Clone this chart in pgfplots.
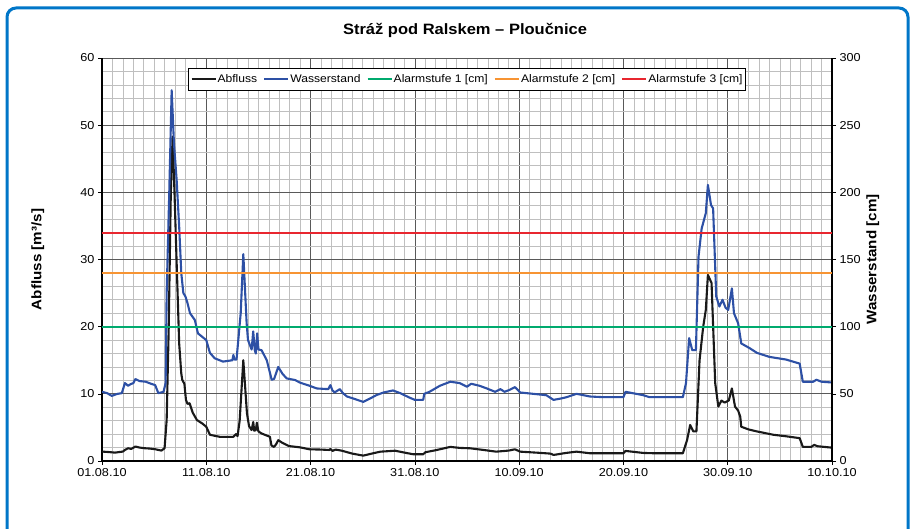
\documentclass[border=0pt]{standalone}
\usepackage{fontspec}
\setmainfont{Liberation Sans}[FakeStretch=1.1]
\usepackage{pgfplots}
\pgfplotsset{compat=1.18}
\definecolor{frameblue}{RGB}{0,118,200}
\definecolor{wblue}{RGB}{45,80,165}
\definecolor{agreen}{RGB}{0,170,110}
\definecolor{aorange}{RGB}{247,148,51}
\definecolor{ared}{RGB}{232,38,47}
\definecolor{qblack}{RGB}{25,25,25}

\begin{document}
\begin{tikzpicture}[x=1pt,y=1pt]
\path[use as bounding box] (0,0) rectangle (915,529);
\draw[frameblue, line width=3pt, rounded corners=9pt] (7,-30) -- (7,521) -- (908,521) -- (908,-30);
\node[font=\fontsize{15}{17}\selectfont\bfseries] at (465,499) {Stráž pod Ralskem – Ploučnice};

\pgfplotsset{
  common/.style={
    at={(102pt,68pt)}, anchor=south west, scale only axis,
    width=730pt, height=403pt,
    xmin=0, xmax=70,
    tick align=outside, major tick length=4pt, minor tick length=0pt,
    tick style={black, line width=0.6pt},
    axis line style={line width=1.8pt, -},
    ticklabel style={font=\fontsize{11.5}{13}\selectfont},
    /pgf/number format/assume math mode=true,
    label style={font=\fontsize{13.8}{15}\selectfont\bfseries},
  }
}

\begin{axis}[common,
  ymin=0, ymax=60,
  xtick={0,10,...,70},
  xticklabels={01.08.10,11.08.10,21.08.10,31.08.10,10.09.10,20.09.10,30.09.10,10.10.10},
  ytick={0,10,...,60},
  minor x tick num=9, minor y tick num=4,
  grid=both,
  major grid style={black!65, line width=0.7pt},
  minor grid style={black!25, line width=0.6pt},
  axis x line*=bottom, axis y line*=left,
  ylabel={Abfluss [m³/s]},
  ylabel style={at={(axis description cs:-0.088,0.5)}, anchor=center},
]
\addplot[qblack, line width=2.1pt, line join=round] coordinates {
(0,1.4) (0.5,1.35) (1.25,1.25) (2.0,1.4) (2.2,1.65) (2.5,1.9) (2.8,1.8) (3.2,2.15) (3.6,2.0)
(4.1,1.9) (4.6,1.85) (5.1,1.75) (5.7,1.55) (6.0,1.9) (6.2,6.1) (6.4,20) (6.6,40) (6.77,48.3)
(6.95,40) (7.15,29.9) (7.4,17.5) (7.6,13.05) (7.7,12.06) (7.9,11.5) (8.05,9.1) (8.2,8.5) (8.4,8.6)
(8.7,7.2) (9.1,6.1) (9.6,5.6) (10.0,5.1) (10.35,3.9) (11.3,3.6) (12.0,3.6) (12.6,3.6) (12.85,4.0)
(13.0,3.7) (13.2,6) (13.55,15.0) (13.9,7.1) (14.1,5.2) (14.35,4.6) (14.5,5.8) (14.6,4.5) (14.75,4.6)
(14.85,5.7) (15.0,4.4) (15.3,4.1) (16.1,3.6) (16.25,2.3) (16.5,2.1) (16.7,2.5) (16.9,3.1) (17.3,2.7)
(17.7,2.4) (17.9,2.23) (19.0,2.03) (19.9,1.74) (21.0,1.7) (21.8,1.64) (21.9,1.8) (22.1,1.5) (22.4,1.7)
(23.0,1.53) (24.0,1.1) (25.05,0.8) (26.0,1.15) (26.7,1.39) (28.1,1.53) (29.0,1.25) (29.85,1.0)
(30.8,1.0) (31.0,1.3) (32.1,1.64) (33.4,2.1) (34.3,1.95) (35.3,1.89) (36.6,1.64) (37.8,1.39)
(39.0,1.55) (39.6,1.74) (40.1,1.39) (41.7,1.24) (43.0,1.1) (43.3,0.9) (44.5,1.2) (45.5,1.39)
(46.8,1.15) (49.3,1.15) (50.0,1.15) (50.2,1.5) (51.9,1.2) (53,1.15) (55.7,1.15) (56.1,3.1)
(56.4,5.36) (56.7,4.4) (57.0,4.4) (57.3,15.0) (57.65,20) (57.9,22.5) (58.1,27.7) (58.45,26.5)
(58.8,11.6) (59.1,8.1) (59.4,9.0) (59.7,8.7) (60.1,9.0) (60.4,10.8) (60.7,8.1) (61.0,7.5) (61.2,6.6)
(61.3,5.1) (62.0,4.7) (62.8,4.4) (64.4,3.9) (65.5,3.7) (66.9,3.4) (67.2,2.1) (68.0,2.1) (68.3,2.4)
(68.6,2.2) (69.9,2.0)
};
\end{axis}

\begin{axis}[common,
  ymin=0, ymax=300,
  ytick={0,50,...,300},
  axis x line=none, axis y line*=right,
  ylabel={Wasserstand [cm]},
  ylabel style={at={(axis description cs:1.056,0.5)}, anchor=center},
  legend columns=-1,
  legend image code/.code={\draw[#1] (0pt,0pt) -- (24pt,0pt);},
  legend style={at={(0.5,0.975)}, anchor=north, draw=black, line width=0.5pt,
    font=\fontsize{11}{13}\selectfont, inner xsep=2pt, inner ysep=4pt,
    /tikz/every even column/.append style={column sep=5pt},
    nodes={inner xsep=1pt}},
]
\addlegendimage{qblack, line width=2.1pt}
\addlegendentry{Abfluss}
\addplot[wblue, line width=2.1pt, line join=round] coordinates {
(0,51.5) (0.5,50.5) (0.93,48.5) (1.5,50) (1.9,50.5) (2.2,58) (2.5,56) (2.7,57) (3.0,58) (3.2,61)
(3.6,59.5) (4.2,59) (4.7,57.5) (5.1,56.5) (5.4,50.5) (5.9,51.5) (6.1,58) (6.2,125) (6.45,200)
(6.68,276) (6.9,236.5) (7.16,209) (7.4,174.5) (7.6,140) (7.8,125) (8.0,122.5) (8.2,117.5)
(8.44,110) (8.9,105) (9.2,95) (10.0,90) (10.35,80.5) (10.8,76.5) (11.6,74) (12.5,75) (12.6,79)
(12.7,75.5) (12.9,75.5) (13.3,110) (13.55,154) (13.87,102.5) (14.0,90) (14.35,83) (14.5,96.5)
(14.65,82.5) (14.75,80) (14.88,95) (15.0,83) (15.3,82.5) (15.8,75) (16.27,60.5) (16.5,61)
(16.9,70) (17.3,65) (17.7,61.5) (18.5,60.3) (19.0,58.3) (19.9,56) (20.6,54) (21.7,53.5)
(21.9,56.5) (22.1,52.5) (22.3,51) (22.8,53.5) (23.1,50.5) (23.5,48) (24.1,46.5) (25.05,44)
(25.7,46.5) (26.3,49) (27.0,51) (27.9,52.5) (28.6,50.5) (29.4,47.5) (30.0,45.5) (30.8,45.5)
(30.9,50) (31.4,51.5) (32.4,56) (33.4,59) (34.3,58) (35.0,55.3) (35.4,57.5) (36.2,56) (36.9,54)
(37.7,51.5) (38.2,53.5) (38.6,51.5) (39.1,53) (39.6,55) (40.1,51) (41.35,50) (42.6,49) (43.3,45.5)
(44.0,46.5) (44.55,47.5) (45.5,50) (46.8,48) (48.1,47.5) (50.0,47.5) (50.2,51.5) (51.9,49)
(52.5,47.5) (55.7,47.5) (56.0,58) (56.3,91.5) (56.6,82.5) (56.95,82.5) (57.2,152) (57.5,173)
(57.9,184.5) (58.1,205.5) (58.4,190.5) (58.6,188) (58.9,122.5) (59.2,115) (59.5,120) (59.8,114)
(60.05,112.5) (60.4,128.5) (60.6,110) (61.0,102.5) (61.3,87.5) (62.1,84) (62.8,80.5) (64.0,77.5)
(65.6,75.5) (66.9,72.5) (67.2,59) (68.2,59) (68.5,60.5) (69.0,59) (69.9,58.5)
};
\addlegendentry{Wasserstand}
\addplot[agreen, line width=2.2pt] coordinates {(0,100) (70,100)};
\addlegendentry{Alarmstufe 1 [cm]}
\addplot[aorange, line width=2.2pt] coordinates {(0,140) (70,140)};
\addlegendentry{Alarmstufe 2 [cm]}
\addplot[ared, line width=2.2pt] coordinates {(0,170) (70,170)};
\addlegendentry{Alarmstufe 3 [cm]}
\end{axis}
\end{tikzpicture}
\end{document}
